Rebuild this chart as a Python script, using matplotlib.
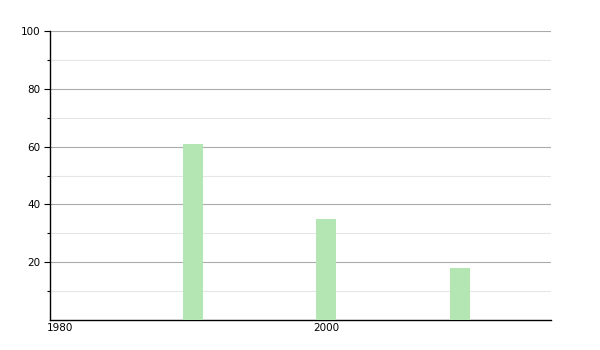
import matplotlib
matplotlib.use("Agg")
import matplotlib.pyplot as plt
import matplotlib.transforms as mtransforms

years = [1990, 2000, 2010]
values = [61, 35, 18]
xtick_years = [1980, 2000]
ytick_major = [20, 40, 60, 80, 100]
ytick_minor = [10, 30, 50, 70, 90]

fig = plt.figure(figsize=(6, 3.5), dpi=100)
ax = fig.add_axes([50/600, 30/350, 501/600, 289/350])

ax.bar(years, values, width=1.5, align='edge', color='#b3e6b3', zorder=3)

ax.set_xlim(1980, 2017.6)
ax.set_ylim(0, 100)
ax.set_yticks(ytick_major)
ax.set_yticks(ytick_minor, minor=True)
ax.set_yticklabels([str(v) for v in ytick_major], fontsize=7.5)
ax.set_xticks(xtick_years)
ax.set_xticklabels([])
blend = mtransforms.blended_transform_factory(ax.transData, ax.transAxes)
offset = mtransforms.ScaledTranslation(-3/100, -3/100, fig.dpi_scale_trans)
for yr in xtick_years:
    ax.text(yr, 0, str(yr), transform=blend + offset, fontsize=7.5,
            ha='left', va='top')
ax.tick_params(axis='x', length=0)
ax.tick_params(axis='y', which='major', length=4, width=0.8, pad=3)
ax.tick_params(axis='y', which='minor', length=2, width=0.8)

ax.grid(axis='y', which='major', color='#aaaaaa', linewidth=0.8, zorder=0)
ax.grid(axis='y', which='minor', color='#e6e6e6', linewidth=0.8, zorder=0)
ax.spines['top'].set_visible(False)
ax.spines['right'].set_visible(False)
ax.spines['left'].set_color('black')
ax.spines['bottom'].set_color('black')
ax.spines['left'].set_linewidth(1)
ax.spines['bottom'].set_linewidth(1)

fig.savefig('out.png', dpi=100)
